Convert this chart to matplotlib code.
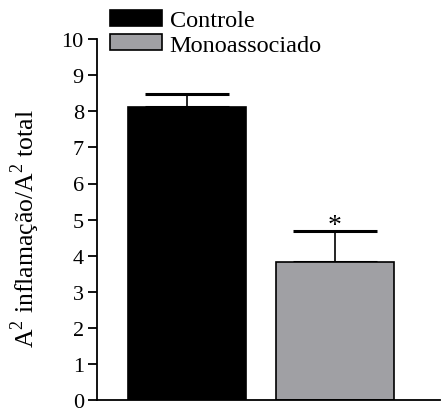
import numpy as np
import matplotlib
matplotlib.use("Agg")
import matplotlib.pyplot as plt
from matplotlib.patches import Patch

plt.rcParams['font.family'] = ['Liberation Serif', 'DejaVu Serif']
plt.rcParams['mathtext.fontset'] = 'custom'
plt.rcParams['mathtext.rm'] = 'Liberation Serif'

groups = ["Controle", "Monoassociado"]
means = [8.12, 3.82]
sem = [0.36, 0.86]
colors = ["#000000", "#a0a0a4"]

fig = plt.figure(figsize=(4.48, 4.10), dpi=100)
ax = fig.add_axes([0.2165, 0.022, 0.766, 0.880])

x = np.arange(len(groups))
ax.bar(x, means, width=0.8, color=colors, edgecolor="black", linewidth=1.2, zorder=2)
for xi, m, s in zip(x, means, sem):
    ax.errorbar(xi, m, yerr=[[0], [s]], fmt="none", ecolor="black",
                elinewidth=1.2, capsize=30, capthick=2.2, zorder=1)

ax.text(x[1], means[1] + sem[1] - 0.03, "*", ha="center", va="baseline", fontsize=20)

ax.set_xlim(-0.608, 1.71)
ax.set_ylim(0, 10)
ax.set_yticks(np.arange(0, 11, 1))
ax.set_xticks([])
ax.spines["top"].set_visible(False)
ax.spines["right"].set_visible(False)
ax.spines["left"].set_linewidth(1.3)
ax.spines["bottom"].set_linewidth(1.3)
ax.tick_params(axis="y", direction="out", length=6.5, width=1.3, labelsize=16, pad=3)
ax.set_ylabel("A$^2$ inflamação/A$^2$ total", fontsize=18.5, va="center")
ax.yaxis.set_label_coords(-0.21, 0.479)

handles = [Patch(facecolor=c, edgecolor="black", linewidth=1.2) for c in colors]
fig.legend(handles, groups, loc="upper left", bbox_to_anchor=(110 / 448, 1 - 11 / 410),
           frameon=False, fontsize=17.5, handlelength=2.15, handleheight=0.62,
           labelspacing=0.12, handletextpad=0.3, borderpad=0, borderaxespad=0)

fig.savefig("out.png", dpi=100)
